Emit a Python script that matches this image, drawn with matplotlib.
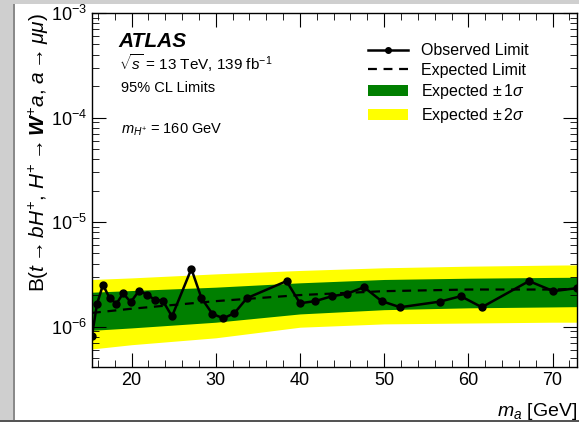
import numpy as np
import matplotlib
matplotlib.use('Agg')
import matplotlib.pyplot as plt
from matplotlib.patches import Patch, Rectangle
from matplotlib.lines import Line2D
from matplotlib.ticker import MultipleLocator, LogLocator, NullFormatter

plt.rcParams['font.family'] = ['Liberation Sans', 'DejaVu Sans']
plt.rcParams['mathtext.fontset'] = 'custom'
plt.rcParams['mathtext.rm'] = 'Liberation Sans'
plt.rcParams['mathtext.it'] = 'Liberation Sans:italic'
plt.rcParams['mathtext.bf'] = 'Liberation Sans:italic:bold'

# observed limit (m_a [GeV], B)
obs_m = [15.3, 15.9, 16.6, 17.4, 18.2, 19.0, 19.9, 20.9, 21.8, 22.8, 23.7, 24.8,
         27.1, 28.3, 29.6, 30.9, 32.2, 33.7, 38.4, 40.0, 41.8, 43.8, 45.6, 47.6,
         49.7, 51.9, 56.6, 59.1, 61.6, 67.2, 70.1, 72.9]
obs_b = [8.2e-7, 1.65e-6, 2.5e-6, 1.87e-6, 1.65e-6, 2.08e-6, 1.71e-6, 2.21e-6, 2.02e-6,
         1.80e-6, 1.77e-6, 1.25e-6, 3.56e-6, 1.87e-6, 1.32e-6, 1.20e-6, 1.34e-6, 1.87e-6,
         2.72e-6, 1.67e-6, 1.75e-6, 1.95e-6, 2.06e-6, 2.38e-6, 1.75e-6, 1.53e-6, 1.73e-6,
         1.95e-6, 1.53e-6, 2.72e-6, 2.18e-6, 2.33e-6]

# expected limit and bands
exp_m = [15.3, 20, 30, 40, 50, 60, 70, 72.9]
exp_b = [1.35e-6, 1.48e-6, 1.75e-6, 2.0e-6, 2.18e-6, 2.26e-6, 2.26e-6, 2.3e-6]
g_hi = [2.13e-6, 2.21e-6, 2.38e-6, 2.62e-6, 2.82e-6, 2.90e-6, 2.95e-6, 2.96e-6]
g_lo = [9.2e-7, 9.7e-7, 1.10e-6, 1.32e-6, 1.45e-6, 1.51e-6, 1.54e-6, 1.55e-6]
y_hi = [2.82e-6, 2.92e-6, 3.19e-6, 3.44e-6, 3.65e-6, 3.78e-6, 3.87e-6, 3.89e-6]
y_lo = [6.1e-7, 6.7e-7, 7.8e-7, 9.85e-7, 1.06e-6, 1.08e-6, 1.10e-6, 1.10e-6]

fig = plt.figure(figsize=(5.79, 4.22), dpi=100)
# screenshot border
fig.patches.append(Rectangle((0, 0), 14/579, 1, transform=fig.transFigure,
                             facecolor='#cfcfcf', edgecolor='none', zorder=-1))
fig.patches.append(Rectangle((13/579, 0), 2/579, 1, transform=fig.transFigure,
                             facecolor='#8a8a8a', edgecolor='none', zorder=-1))
fig.patches.append(Rectangle((0, 1 - 4/422), 1, 4/422, transform=fig.transFigure,
                             facecolor='#cfcfcf', edgecolor='none', zorder=-1))
fig.patches.append(Rectangle((0, 0), 1, 2/422, transform=fig.transFigure,
                             facecolor='#555555', edgecolor='none', zorder=-1))
ax = fig.add_axes([92/579, 1 - 367/422, 485/579, 354/422])

ax.fill_between(exp_m, y_lo, y_hi, color='#ffff00', linewidth=0)
ax.fill_between(exp_m, g_lo, g_hi, color='#007f00', linewidth=0)
ax.plot(exp_m, exp_b, 'k--', lw=1.6, dashes=(4, 3))
ax.plot(obs_m, obs_b, 'k-', lw=1.8, marker='o', ms=5)

ax.set_yscale('log')
ax.set_xlim(15.3, 72.9)
ax.set_ylim(4.1e-7, 1e-3)
ax.xaxis.set_major_locator(MultipleLocator(10))
ax.xaxis.set_minor_locator(MultipleLocator(2))
ax.yaxis.set_major_locator(LogLocator(base=10, numticks=10))
ax.yaxis.set_minor_locator(LogLocator(base=10, subs=np.arange(2, 10), numticks=10))
ax.yaxis.set_minor_formatter(NullFormatter())
ax.tick_params(which='both', direction='in', top=True, right=True, labelsize=13)
ax.tick_params(which='major', length=10)
ax.tick_params(which='minor', length=5)
for s in ax.spines.values():
    s.set_linewidth(1.0)

ax.set_xlabel(r'$m_a$ [GeV]', fontsize=14, loc='right', labelpad=9)
ax.set_ylabel(r'B($t \rightarrow bH^{+}$, $H^{+} \rightarrow \mathbf{W}^{+}a$, $a \rightarrow \mu\mu$)',
              fontsize=15, loc='top', labelpad=0)

ax.text(0.055, 0.905, 'ATLAS', transform=ax.transAxes, fontsize=15,
        fontweight='bold', fontstyle='italic')
ax.text(0.055, 0.84, r'$\sqrt{s}$ = 13 TeV, 139 fb$^{-1}$', transform=ax.transAxes, fontsize=11)
ax.text(0.06, 0.778, '95% CL Limits', transform=ax.transAxes, fontsize=10.5)
ax.text(0.06, 0.66, r'$m_{H^{+}}$ = 160 GeV', transform=ax.transAxes, fontsize=10.5)

handles = [Line2D([], [], color='k', lw=1.8, marker='o', ms=4),
           Line2D([], [], color='k', lw=1.6, ls='--', dashes=(4, 3)),
           Patch(facecolor='#007f00'),
           Patch(facecolor='#ffff00')]
labels = ['Observed Limit', 'Expected Limit', r'Expected $\pm\,1\sigma$', r'Expected $\pm\,2\sigma$']
ax.legend(handles, labels, loc='upper left', bbox_to_anchor=(0.54, 0.955), frameon=False,
          fontsize=11.5, handlelength=2.5, labelspacing=0.28, handletextpad=0.8)

fig.savefig('out.png', dpi=100)
